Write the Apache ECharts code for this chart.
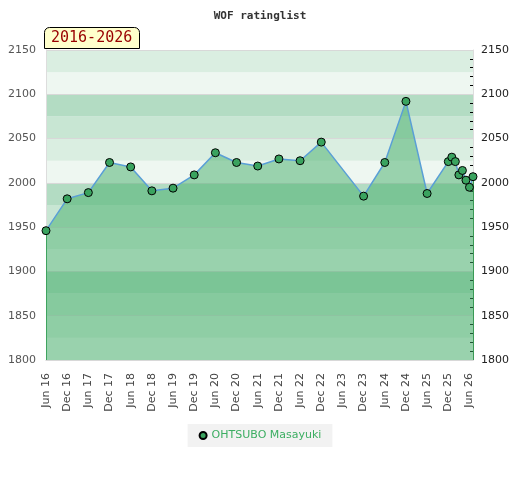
<!DOCTYPE html>
<html>
<head>
<meta charset="utf-8">
<script src="https://cdn.jsdelivr.net/npm/echarts@6/dist/echarts.min.js"></script>
<style>
  html, body { margin: 0; padding: 0; background: #fff; }
  #chart { width: 520px; height: 480px; }
</style>
</head>
<body>
<div id="chart"></div>
<script>
   // rating list dates (year-month) and ratings
   var dates = ['2016-06','2016-12','2017-06','2017-12','2018-06','2018-12','2019-06','2019-12',
                '2020-06','2020-12','2021-06','2021-12','2022-06','2022-12','2023-12','2024-06',
                '2024-12','2025-06','2025-12','2026-01','2026-02','2026-03','2026-04','2026-05',
                '2026-06','2026-07'];
   var ratings = [1946,1982,1989,2023,2018,1991,1994,2009,
                  2034,2023,2019,2027,2025,2046,1985,2023,
                  2092,1988,2024,2029,2024,2009,2014,2003,
                  1995,2007];
   var yTicks = [1800,1850,1900,1950,2000,2050,2100,2150];
   // band colours from the bottom, repeating every 100 points
   var bandColors = ['#eef7f1','#daeee1','#c8e6d3','#b3dcc3'];
   var playerName = 'OHTSUBO Masayuki';
   var periodLabel = '2016-2026';

   var monthNames = ['Jan','Feb','Mar','Apr','May','Jun','Jul','Aug','Sep','Oct','Nov','Dec'];
   // months counted from Jun 2016
   function toMonth(s) {
       var p = s.split('-');
       return (parseInt(p[0], 10) - 2016) * 12 + (parseInt(p[1], 10) - 6);
   }
   var points = [];
   for (var i = 0; i < dates.length; i++) {
       points.push([toMonth(dates[i]), ratings[i]]);
   }
   var first = points[0], last = points[points.length - 1];

   var chart = echarts.init(document.getElementById('chart'));
   var option = {
       animation: false,
       title: [
           {
               text: 'WOF ratinglist',
               left: 'center',
               top: 6,
               textStyle: { fontFamily: 'DejaVu Sans Mono', fontSize: 11, fontWeight: 'bold', color: '#333' }
           },
           {
               text: periodLabel,
               left: 44,
               top: 27,
               padding: [3, 7, 2, 7],
               backgroundColor: '#ffffcc',
               borderColor: '#000',
               borderWidth: 1,
               borderRadius: [5, 5, 0, 0],
               textStyle: { fontFamily: 'DejaVu Sans Mono', fontSize: 15, fontWeight: 'normal', color: '#990000', lineHeight: 17 }
           }
       ],
       legend: {
           data: [playerName],
           bottom: 33,
           left: 'center',
           icon: 'circle',
           itemWidth: 7,
           itemHeight: 7,
           itemGap: 5,
           padding: [6, 11, 6, 11],
           backgroundColor: '#f2f2f2',
           textStyle: { fontFamily: 'DejaVu Sans', fontSize: 11, color: '#3cae62' }
       },
       grid: { left: 46, right: 47, top: 50, bottom: 120 },
       xAxis: {
           type: 'value',
           min: 0,
           max: 121,
           interval: 6,
           axisLine: { show: true, lineStyle: { color: '#ccc' } },
           axisTick: { show: false },
           splitLine: { show: false },
           axisLabel: {
               rotate: 90,
               margin: 13,
               fontFamily: 'DejaVu Sans',
               fontSize: 11,
               color: '#444',
               showMaxLabel: false,
               formatter: function (v) {
                   var m = Math.round(v);
                   if (Math.abs(v - m) > 0.01 || m % 6 !== 0) return '';
                   var mi = (m + 5) % 12;
                   var yr = 2016 + Math.floor((m + 5) / 12);
                   return monthNames[mi] + ' ' + String(yr).slice(2);
               }
           }
       },
       yAxis: [
           {
               type: 'value', position: 'left', min: yTicks[0], max: yTicks[yTicks.length - 1], interval: 50,
               axisLine: { show: true, lineStyle: { color: '#ddd' } },
               axisTick: { show: false },
               splitLine: { show: true, lineStyle: { color: '#d8d8d8', width: 1 } },
               axisLabel: { margin: 10, fontFamily: 'DejaVu Sans', fontSize: 11, color: '#555',
                            formatter: function (v) { return String(v); } },
               z: 3
           },
           {
               type: 'value', position: 'right', min: yTicks[0], max: yTicks[yTicks.length - 1], interval: 50,
               axisLine: { show: true, lineStyle: { color: '#ddd' } },
               axisTick: { show: true, inside: true, length: 4, lineStyle: { color: '#000' } },
               minorTick: { show: true, splitNumber: 5, length: 3, lineStyle: { color: '#000' } },
               splitLine: { show: false },
               axisLabel: { margin: 8, fontFamily: 'DejaVu Sans', fontSize: 11, color: '#222',
                            formatter: function (v) { return String(v); } }
           },
           {
               type: 'value', show: true, position: 'left', min: yTicks[0], max: yTicks[yTicks.length - 1], interval: 25,
               axisLine: { show: false }, axisTick: { show: false }, axisLabel: { show: false },
               splitLine: { show: false },
               splitArea: { show: true, areaStyle: { color: bandColors } },
               z: 0
           }
       ],
       series: [
           {
               name: playerName,
               type: 'line',
               data: points,
               yAxisIndex: 0,
               symbol: 'circle',
               symbolSize: 8,
               itemStyle: { color: '#3aa35f', borderColor: '#000', borderWidth: 1 },
               lineStyle: { color: '#5a9fd6', width: 1.5 },
               areaStyle: { color: '#44ae69', opacity: 0.5, origin: 'start' },
               markLine: {
                   silent: true,
                   symbol: ['none', 'none'],
                   label: { show: false },
                   lineStyle: { color: '#3a9a55', width: 1, type: 'solid' },
                   data: [
                       [{ coord: [first[0], first[1]] }, { coord: [first[0], yTicks[0]] }],
                       [{ coord: [last[0], last[1]] }, { coord: [last[0], yTicks[0]] }]
                   ]
               },
               z: 5
           }
       ]
   };
   chart.setOption(option);
</script>
</body>
</html>
